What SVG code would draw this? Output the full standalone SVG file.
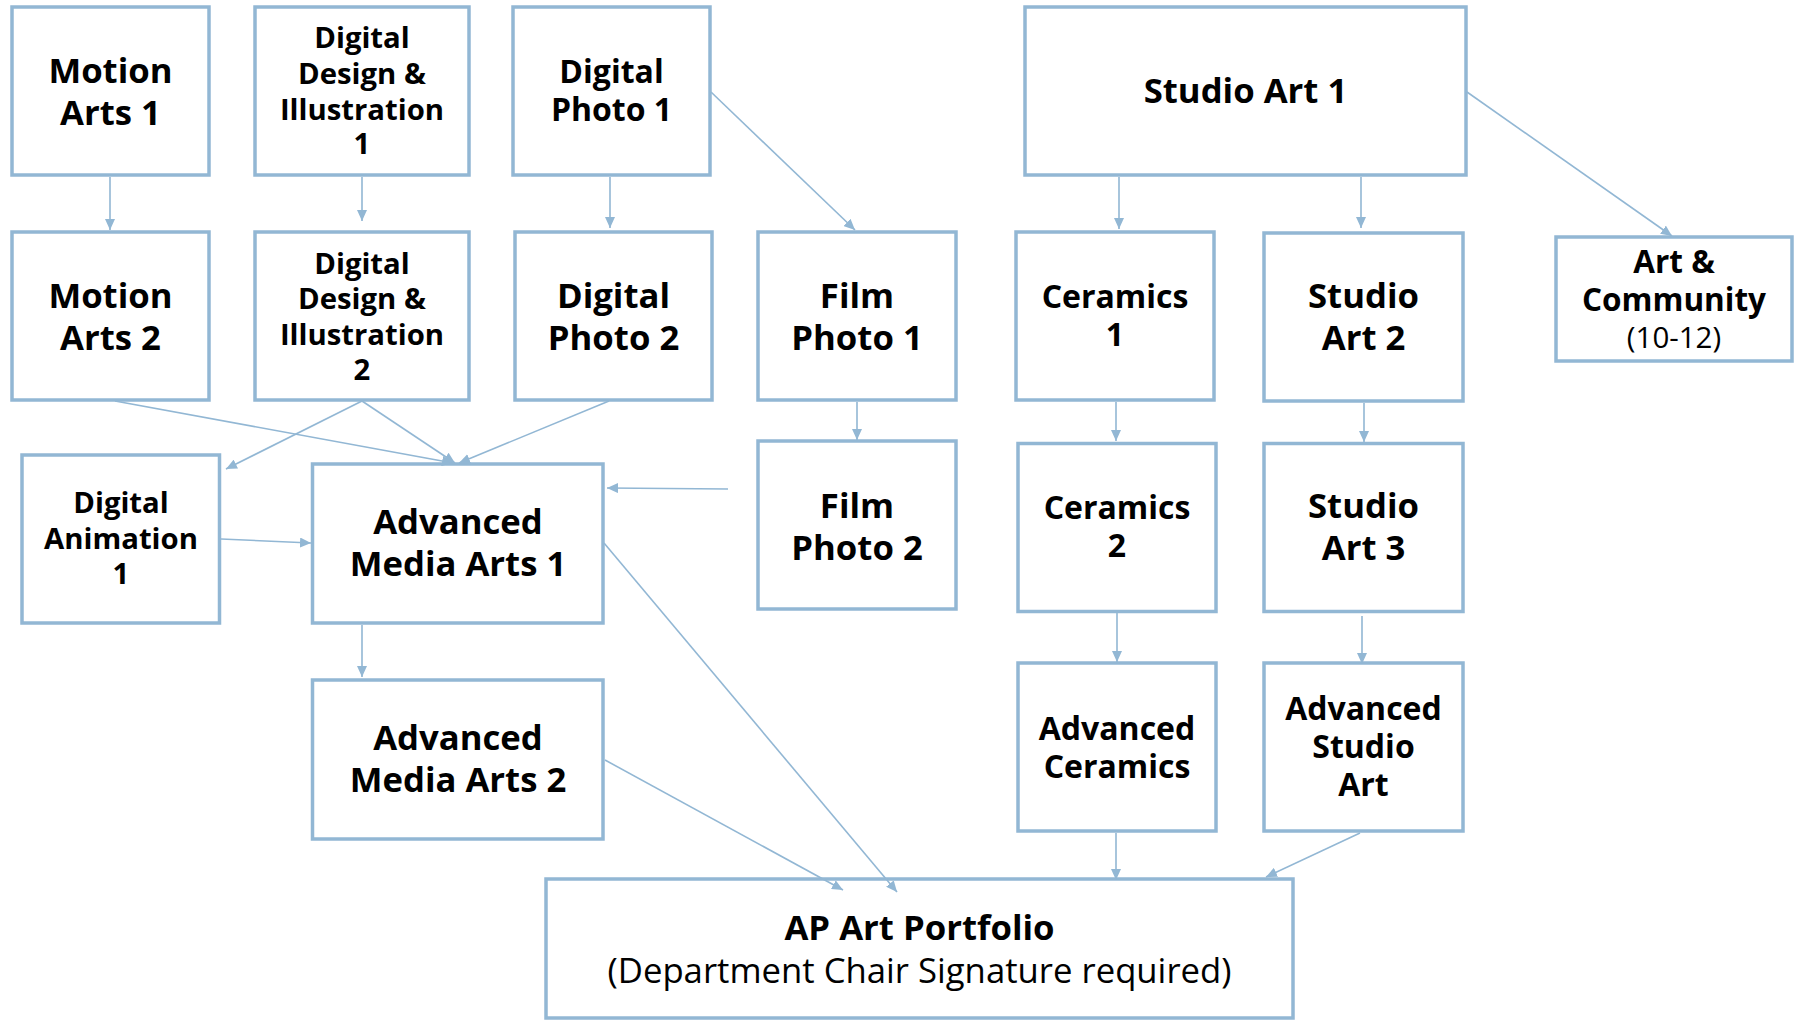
<svg xmlns="http://www.w3.org/2000/svg" width="1802" height="1021" viewBox="0 0 1802 1021">
<defs>
<marker id="ah" markerUnits="userSpaceOnUse" markerWidth="12" markerHeight="10" refX="11" refY="5" orient="auto">
<path d="M0,0 L11,5 L0,10 z" fill="#92b7d4"/>
</marker>
</defs>
<style>
.box{fill:#fff;stroke:#92b7d4;stroke-width:3.5}
.c{stroke:#92b7d4;stroke-width:1.6;fill:none;marker-end:url(#ah)}
text{font-family:"Open Sans","DejaVu Sans",sans-serif;font-weight:700;fill:#000;text-anchor:middle}
.f34{font-size:34.7px}
.f31{font-size:32px}
.f29{font-size:29.3px}
.reg{font-weight:400}
</style>
<rect width="1802" height="1021" fill="#fff"/>
<g id="motion-arts-1"><rect class="box" x="12" y="7" width="197" height="168"/>
<text class="f34" x="110.5" y="83">Motion</text><text class="f34" x="110.5" y="125">Arts 1</text></g>
<g id="ddi-1"><rect class="box" x="255" y="7" width="214" height="168"/>
<text class="f29" x="362" y="48">Digital</text><text class="f29" x="362" y="84">Design &amp;</text><text class="f29" x="362" y="119.5">Illustration</text><text class="f29" x="362" y="154">1</text></g>
<g id="digital-photo-1"><rect class="box" x="513" y="7" width="197" height="168"/>
<text x="611.5" y="83" style="font-size:32px">Digital</text><text x="611.5" y="121" style="font-size:32px">Photo 1</text></g>
<g id="studio-art-1"><rect class="box" x="1025" y="7" width="441" height="168"/>
<text class="f34" x="1245.5" y="103">Studio Art 1</text></g>
<g id="motion-arts-2"><rect class="box" x="12" y="232" width="197" height="168"/>
<text class="f34" x="110.5" y="308">Motion</text><text class="f34" x="110.5" y="350">Arts 2</text></g>
<g id="ddi-2"><rect class="box" x="255" y="232" width="214" height="168"/>
<text class="f29" x="362" y="273.5">Digital</text><text class="f29" x="362" y="309">Design &amp;</text><text class="f29" x="362" y="345">Illustration</text><text class="f29" x="362" y="380">2</text></g>
<g id="digital-photo-2"><rect class="box" x="515" y="232" width="197" height="168"/>
<text class="f34" x="613.5" y="308">Digital</text><text class="f34" x="613.5" y="350">Photo 2</text></g>
<g id="film-photo-1"><rect class="box" x="758" y="232" width="198" height="168"/>
<text class="f34" x="857" y="308">Film</text><text class="f34" x="857" y="350">Photo 1</text></g>
<g id="ceramics-1"><rect class="box" x="1016" y="232" width="198" height="168"/>
<text class="f31" x="1115" y="308">Ceramics</text><text class="f31" x="1115" y="346">1</text></g>
<g id="studio-art-2"><rect class="box" x="1264" y="233" width="199" height="168"/>
<text class="f34" x="1363.5" y="308">Studio</text><text class="f34" x="1363.5" y="350">Art 2</text></g>
<g id="art-community"><rect class="box" x="1556" y="237" width="236" height="124"/>
<text x="1674" y="272.5" style="font-size:31.5px">Art &amp;</text><text x="1674" y="310.5" style="font-size:31.5px">Community</text><text class="reg" x="1674" y="347.5" style="font-size:29.5px">(10-12)</text></g>
<g id="digital-animation-1"><rect class="box" x="22" y="455" width="197.5" height="168"/>
<text class="f29" x="121" y="512.5">Digital</text><text class="f29" x="121" y="548.5">Animation</text><text class="f29" x="121" y="584">1</text></g>
<g id="advanced-media-arts-1"><rect class="box" x="312.5" y="464" width="290.5" height="159"/>
<text class="f34" x="458" y="534">Advanced</text><text class="f34" x="458" y="576">Media Arts 1</text></g>
<g id="film-photo-2"><rect class="box" x="758" y="441" width="198" height="168"/>
<text class="f34" x="857" y="518">Film</text><text class="f34" x="857" y="560">Photo 2</text></g>
<g id="ceramics-2"><rect class="box" x="1018" y="443.5" width="198" height="168"/>
<text class="f31" x="1117" y="519">Ceramics</text><text class="f31" x="1117" y="557">2</text></g>
<g id="studio-art-3"><rect class="box" x="1264" y="443.5" width="199" height="168"/>
<text class="f34" x="1363.5" y="518">Studio</text><text class="f34" x="1363.5" y="560">Art 3</text></g>
<g id="advanced-media-arts-2"><rect class="box" x="312.5" y="680" width="290.5" height="159"/>
<text class="f34" x="458" y="750">Advanced</text><text class="f34" x="458" y="792">Media Arts 2</text></g>
<g id="advanced-ceramics"><rect class="box" x="1018" y="663" width="198" height="168"/>
<text class="f31" x="1117" y="740">Advanced</text><text class="f31" x="1117" y="778">Ceramics</text></g>
<g id="advanced-studio-art"><rect class="box" x="1264" y="663" width="199" height="168"/>
<text class="f31" x="1363.5" y="720">Advanced</text><text class="f31" x="1363.5" y="758">Studio</text><text class="f31" x="1363.5" y="796">Art</text></g>
<g id="ap-art-portfolio"><rect class="box" x="546" y="879" width="747" height="139"/>
<text class="f34" x="919.5" y="940">AP Art Portfolio</text><text class="f34 reg" x="919.5" y="983">(Department Chair Signature required)</text></g>
<g id="connectors">
<line class="c" x1="110" y1="177" x2="110" y2="230"/>
<line class="c" x1="362" y1="177" x2="362" y2="221"/>
<line class="c" x1="610" y1="177" x2="610" y2="228"/>
<line class="c" x1="711" y1="92" x2="855" y2="230"/>
<line class="c" x1="1119" y1="177" x2="1119" y2="229"/>
<line class="c" x1="1361" y1="177" x2="1361" y2="228"/>
<line class="c" x1="1467" y1="92" x2="1672" y2="236"/>
<line class="c" x1="857" y1="402" x2="857" y2="440"/>
<line class="c" x1="1116" y1="402" x2="1116" y2="441"/>
<line class="c" x1="1364" y1="403" x2="1364" y2="442"/>
<line class="c" x1="1117" y1="613" x2="1117" y2="662"/>
<line class="c" x1="1362" y1="616" x2="1362" y2="664"/>
<line class="c" x1="1116" y1="833" x2="1116" y2="880"/>
<line class="c" x1="1360" y1="833" x2="1266" y2="877"/>
<line class="c" x1="604" y1="543" x2="897" y2="892"/>
<line class="c" x1="605" y1="760" x2="843" y2="890"/>
<line class="c" x1="115" y1="401" x2="453" y2="463"/>
<line class="c" x1="362" y1="401" x2="455" y2="463"/>
<line class="c" x1="362" y1="401" x2="226" y2="469"/>
<line class="c" x1="609" y1="401" x2="459" y2="463"/>
<line class="c" x1="221" y1="539" x2="311" y2="543"/>
<line class="c" x1="728" y1="489" x2="607" y2="488"/>
<line class="c" x1="362" y1="625" x2="362" y2="677"/>
</g>
</svg>
